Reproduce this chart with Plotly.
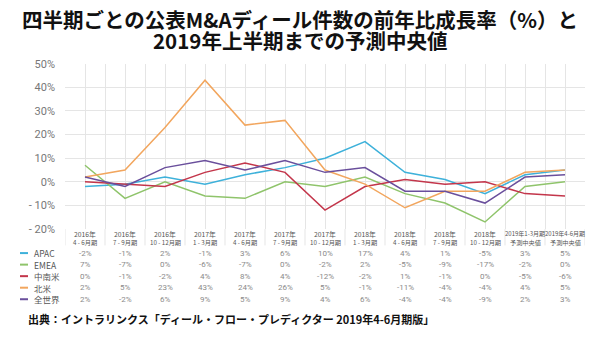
import plotly.graph_objects as go

# ---------------- data ----------------
cat_year = ["2016年", "2016年", "2016年", "2017年", "2017年", "2017年", "2017年",
            "2018年", "2018年", "2018年", "2018年", "2019年1-3月期", "2019年4-6月期"]
cat_period = ["4 - 6月期", "7 - 9月期", "10 - 12月期", "1 - 3月期", "4 - 6月期", "7 - 9月期",
              "10 - 12月期", "1 - 3月期", "4 - 6月期", "7 - 9月期", "10 - 12月期",
              "予測中央値", "予測中央値"]

series_names = ["APAC", "EMEA", "中南米", "北米", "全世界"]
apac = [-2, -1, 2, -1, 3, 6, 10, 17, 4, 1, -5, 3, 5]
emea = [7, -7, 0, -6, -7, 0, -2, 2, -5, -9, -17, -2, 0]
latam = [0, -1, -2, 4, 8, 4, -12, -2, 1, -1, 0, -5, -6]
north_america = [2, 5, 23, 43, 24, 26, 5, -1, -11, -4, -4, 4, 5]
world = [2, -2, 6, 9, 5, 9, 4, 6, -4, -4, -9, 2, 3]
series_values = [apac, emea, latam, north_america, world]

y_tick_vals = [50, 40, 30, 20, 10, 0, -10, -20]
y_tick_text = ["50%", "40%", "30%", "20%", "10%", "0%", "- 10%", "- 20%"]

title_lines = ["四半期ごとの公表M&Aディール件数の前年比成長率（%）と",
               "2019年上半期までの予測中央値"]
source_text = "出典：イントラリンクス「ディール・フロー・プレディクター 2019年4-6月期版」"

# ---------------- style ----------------
colors = ["#3eb1da", "#8fc46b", "#c3364b", "#f2a65e", "#6a4f9c"]
W, H = 600, 337
plot_left, plot_right = 65, 585
plot_top, plot_bottom = 60, 232
header_bottom = 249
row_y = [257, 269, 281, 293, 305]
grid_color = "#e5e5e5"
CJK = "Noto Sans CJK JP"

def py(px):
    return (H - px) / H

def pct(v):
    return f"-{abs(v)}%" if v < 0 else f"{v}%"

n = len(cat_year)
xs = list(range(n))

fig = go.Figure()
for name, vals, col in zip(series_names, series_values, colors):
    fig.add_trace(go.Scatter(x=xs, y=vals, mode="lines", name=name,
                             line=dict(color=col, width=1.5), showlegend=False))

annotations = []
shapes = []

# title
for i, t in enumerate(title_lines):
    annotations.append(dict(text=f"<b>{t}</b>", xref="paper", yref="paper",
                            x=0.5, y=py(14 + 21.5 * i), xanchor="center", yanchor="middle",
                            showarrow=False, font=dict(family=CJK, size=20.5, color="#111")))

# category header
for i in range(n):
    long = len(cat_year[i]) > 6
    annotations.append(dict(text=cat_year[i], xref="x", yref="paper", x=i, y=py(237),
                            xanchor="center", yanchor="middle", showarrow=False,
                            font=dict(family=CJK, size=6.0 if long else 6.8, color="#555")))
    annotations.append(dict(text=cat_period[i], xref="x", yref="paper", x=i, y=py(246.5),
                            xanchor="center", yanchor="middle", showarrow=False,
                            font=dict(family=CJK, size=6.2, color="#555")))
# vertical separators extending through header
for i in range(n + 1):
    shapes.append(dict(type="line", xref="x", yref="paper", x0=i - 0.5, x1=i - 0.5,
                       y0=py(plot_bottom), y1=py(header_bottom),
                       line=dict(color=grid_color, width=1), layer="below"))

# data table
for r, (name, vals, col) in enumerate(zip(series_names, series_values, colors)):
    shapes.append(dict(type="line", xref="paper", yref="paper", x0=20 / W, x1=28 / W,
                       y0=py(row_y[r]), y1=py(row_y[r]), line=dict(color=col, width=2)))
    annotations.append(dict(text=name, xref="paper", yref="paper", x=32 / W, y=py(row_y[r]),
                            xanchor="left", yanchor="middle", showarrow=False,
                            font=dict(family=CJK, size=8.5, color="#555")))
    for i, v in enumerate(vals):
        annotations.append(dict(text=pct(v), xref="x", yref="paper", x=i, y=py(row_y[r]),
                                xanchor="center", yanchor="middle", showarrow=False,
                                font=dict(family="Roboto", size=8, color="#8a8a8a")))

# source
annotations.append(dict(text=f"<b>{source_text}</b>", xref="paper", yref="paper",
                        x=26 / W, y=py(326), xanchor="left", yanchor="middle",
                        showarrow=False, font=dict(family=CJK, size=11, color="#111")))

fig.update_layout(
    width=W, height=H, autosize=False,
    margin=dict(l=0, r=0, t=0, b=0),
    paper_bgcolor="white", plot_bgcolor="white",
    xaxis=dict(domain=[plot_left / W, plot_right / W], range=[-0.5, n - 0.5],
               showticklabels=False, showgrid=True, gridcolor=grid_color, gridwidth=1,
               tickvals=xs, zeroline=False, showline=False,
               minor=dict(tickvals=[i - 0.5 for i in range(n + 1)], showgrid=True,
                          gridcolor=grid_color, gridwidth=1)),
    yaxis=dict(domain=[py(plot_bottom), py(plot_top)], range=[-20, 50],
               tickvals=y_tick_vals, ticktext=y_tick_text, showgrid=True,
               gridcolor=grid_color, gridwidth=1, zeroline=False, showline=False,
               ticklabelstandoff=9,
               tickfont=dict(family="Roboto", size=11, color="#777")),
    annotations=annotations, shapes=shapes,
)

fig.write_html("out.html")
